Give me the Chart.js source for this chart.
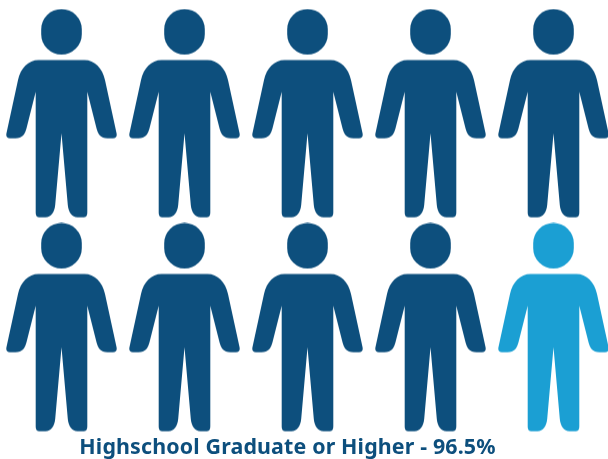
<!DOCTYPE html>
<html>
<head>
<meta charset="utf-8">
<title>Highschool Graduate or Higher</title>
<style>
  html, body { margin: 0; padding: 0; background: #fff; overflow: hidden; }
  canvas { display: block; }
</style>
<script src="https://cdn.jsdelivr.net/npm/chart.js@4/dist/chart.umd.js"></script>
</head>
<body>
<canvas id="people" width="608" height="459"></canvas>
<script>
const captionText = "Highschool Graduate or Higher - 96.5%";

// one figure stands for ten percent
const graduateCols = [0, 1, 2, 3, 4, 0, 1, 2, 3];
const graduateRows = [0, 0, 0, 0, 0, 1, 1, 1, 1];
const otherCols = [4];
const otherRows = [1];

const darkBlue = "#0d4f7d";
const lightBlue = "#1b9fd3";

// person outline, x measured from the middle of the body, y from the top of the head
const bodyPath = "M0 51 L23 51 C33 51 41 59 43.5 71 L55 124 C55.8 127.5 54.5 129.3 51.5 129.3 " +
  "L46 129.3 C39 129.3 36.5 125 35 119.3 L25.8 82.7 L25.8 203 C25.8 207 24.5 208.3 21.5 208.3 " +
  "L16 208.3 C10.5 208.3 6.9 203 6.3 196 L0 124.3 L-6.3 196 C-6.9 203 -10.5 208.3 -16 208.3 " +
  "L-21.5 208.3 C-24.5 208.3 -25.8 207 -25.8 203 L-25.8 82.7 L-35 119.3 C-36.5 125 -39 129.3 -46 129.3 " +
  "L-51.5 129.3 C-54.5 129.3 -55.8 127.5 -55 124 L-43.5 71 C-41 59 -33 51 -23 51 Z";

function makeFigure(colour) {
  let c = document.createElement("canvas");
  c.width = 111;
  c.height = 210;
  let g = c.getContext("2d");
  g.translate(55.5, 0.5);
  g.fillStyle = colour;
  g.beginPath();
  g.roundRect(-20.3, 0, 40.6, 45.5, 20.3);
  g.fill();
  g.fill(new Path2D(bodyPath));
  return c;
}

function toPoints(cols, rows) {
  return cols.map((col, i) => ({ x: col, y: rows[i] }));
}

const captionPlugin = {
  id: "caption",
  afterDraw(chart) {
    let ctx = chart.ctx;
    ctx.save();
    ctx.font = "700 21.4px 'Noto Sans'";
    ctx.letterSpacing = "0.15px";
    ctx.fillStyle = darkBlue;
    ctx.textAlign = "center";
    ctx.textBaseline = "alphabetic";
    ctx.fillText(captionText, 287.5, 454);
    ctx.restore();
  }
};

new Chart("people", {
  type: "scatter",
  data: {
    datasets: [
      {
        label: "Graduate",
        data: toPoints(graduateCols, graduateRows),
        pointStyle: makeFigure(darkBlue),
        pointRadius: 55,
        clip: false
      },
      {
        label: "Other",
        data: toPoints(otherCols, otherRows),
        pointStyle: makeFigure(lightBlue),
        pointRadius: 55,
        clip: false
      }
    ]
  },
  options: {
    responsive: false,
    animation: false,
    // the figures may run up to the canvas edge
    layout: { autoPadding: false, padding: 0 },
    plugins: {
      legend: { display: false },
      tooltip: { enabled: false }
    },
    scales: {
      // 123px between columns and 214px between rows
      x: { type: "linear", display: false, min: -0.5, max: 4.4431 },
      y: { type: "linear", display: false, reverse: true, min: -0.5304, max: 1.6145 }
    }
  },
  plugins: [captionPlugin]
});
</script>
</body>
</html>
